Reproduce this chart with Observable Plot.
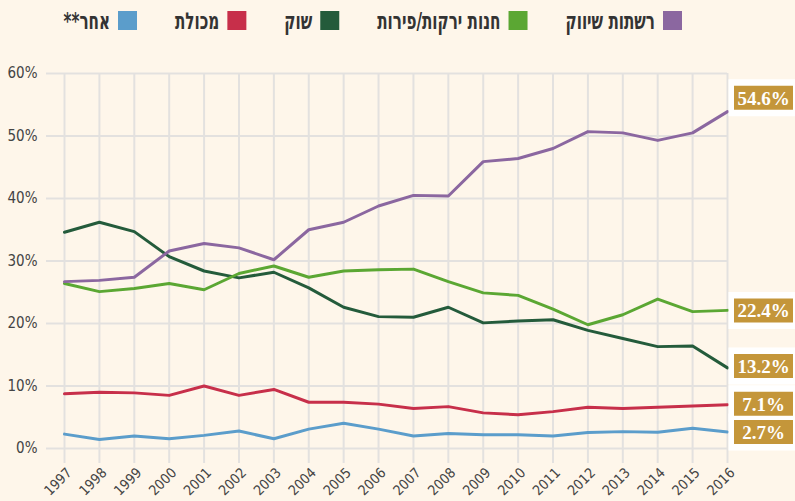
<!DOCTYPE html>
<html lang="he">
<head>
<meta charset="utf-8">
<script src="https://cdn.jsdelivr.net/npm/d3@7"></script>
<script src="https://cdn.jsdelivr.net/npm/@observablehq/plot@0.6"></script>
<style>
  html, body { margin: 0; padding: 0; background: #fef6ea; }
  #wrap { width: 795px; height: 501px; position: relative; overflow: hidden; }
  #legend { display: block; }
  #chart svg { display: block; }
</style>
</head>
<body>
<div id="wrap">
  <svg id="legend" width="795" height="40"></svg>
  <div id="chart"></div>
</div>
<script>
// ---- data ----
const years = [1997,1998,1999,2000,2001,2002,2003,2004,2005,2006,2007,2008,2009,2010,2011,2012,2013,2014,2015,2016];
const seriesNames = ["רשתות שיווק", "חנות ירקות/פירות", "שוק", "מכולת", "אחר**"];
const chains      = [26.7,26.9,27.4,31.6,32.8,32.1,30.2,35.0,36.2,38.8,40.5,40.4,45.9,46.4,48.0,50.7,50.5,49.3,50.5,53.9];
const greengrocer = [26.4,25.1,25.6,26.4,25.4,28.0,29.2,27.4,28.4,28.6,28.7,26.7,24.9,24.5,22.3,19.8,21.4,23.9,21.9,22.1];
const market      = [34.6,36.2,34.7,30.7,28.4,27.3,28.2,25.7,22.6,21.1,21.0,22.6,20.1,20.4,20.6,18.9,17.6,16.3,16.4,12.9];
const grocery     = [8.75,9.0,8.9,8.5,10.0,8.5,9.45,7.4,7.4,7.1,6.4,6.7,5.7,5.4,5.9,6.6,6.4,6.6,6.8,7.0];
const other       = [2.3,1.45,2.0,1.55,2.1,2.8,1.55,3.1,4.05,3.1,2.0,2.4,2.2,2.2,2.0,2.55,2.7,2.6,3.25,2.65];
const endLabels   = ["54.6%", "22.4%", "13.2%", "7.1%", "2.7%"];
const yTicks      = [0,10,20,30,40,50,60];

// ---- styles ----
const colors   = ["#8b67a0", "#5ba733", "#245b3b", "#c72f4a", "#5b9dcb"];
const labelDy  = [-14, 0, -2, -1, 0];
const values   = [chains, greengrocer, market, grocery, other];

const rows = [];
values.forEach((arr, si) => arr.forEach((v, i) => rows.push({series: seriesNames[si], year: years[i], value: v})));
const ends = values.map((arr, si) => ({series: seriesNames[si], year: years[years.length - 1], value: arr[arr.length - 1], label: endLabels[si], si}));

const rectSymbol = (w, h) => ({draw(ctx) { ctx.rect(-w / 2, -h / 2, w, h); }});

const tickFont = "'DejaVu Sans Condensed', 'DejaVu Sans', sans-serif";

const drawOrder = [4, 3, 2, 1, 0];
const lineMarks = drawOrder.map(si =>
  Plot.line(rows.filter(d => d.series === seriesNames[si]), {x: "year", y: "value", stroke: colors[si], strokeWidth: 3})
);

const labelMarks = [];
ends.forEach(e => {
  labelMarks.push(Plot.dot([e], {x: "year", y: "value", dx: 34.5, dy: labelDy[e.si], symbol: rectSymbol(67, 37), fill: "#ffffff", r: 5}));
});
ends.forEach(e => {
  labelMarks.push(Plot.dot([e], {x: "year", y: "value", dx: 36, dy: labelDy[e.si], symbol: rectSymbol(59, 24), fill: "#c4963a", r: 5}));
  labelMarks.push(Plot.text([e], {x: "year", y: "value", text: "label", dx: 36, dy: labelDy[e.si] + 1, fill: "#ffffff",
    fontSize: 19, fontWeight: "bold", fontFamily: "'Liberation Serif', 'DejaVu Serif', serif", textAnchor: "middle"}));
});

const chart = Plot.plot({
  width: 795,
  height: 461,
  marginTop: 33,
  marginBottom: 53,
  marginLeft: 64,
  marginRight: 68,
  style: {background: "transparent", fontFamily: tickFont, fontSize: "15px", color: "#444"},
  x: {domain: [1997, 2016], type: "linear"},
  y: {domain: [0, 60]},
  marks: [
    Plot.ruleY(yTicks, {stroke: "#e3e1df", strokeWidth: 2, insetLeft: -18}),
    Plot.ruleX(years, {stroke: "#e3e1df", strokeWidth: 2, insetBottom: -15}),
    Plot.axisY({ticks: yTicks, tickFormat: d => d + "%", tickSize: 0, tickPadding: 27, fontSize: 15, label: null, fill: "#444"}),
    Plot.axisX({ticks: years, tickFormat: d => String(d), tickSize: 0, tickPadding: 22, tickRotate: -45, fontSize: 14, label: null, fill: "#444", dx: 5}),
    ...lineMarks,
    ...labelMarks
  ]
});
document.getElementById("chart").appendChild(chart);

// ---- legend ----
const leg = d3.select("#legend");
let rightX = 682;
const k = 0.66;
seriesNames.forEach((name, si) => {
  leg.append("rect").attr("x", rightX - 19).attr("y", 11).attr("width", 19).attr("height", 19).attr("fill", colors[si]);
  const t = leg.append("text")
    .attr("x", rightX - 19 - 8).attr("y", 29)
    .attr("text-anchor", "start")
    .attr("direction", "rtl")
    .style("direction", "rtl")
    .style("unicode-bidi", "embed")
    .attr("fill", "#333")
    .style("font-family", "'DejaVu Sans', sans-serif")
    .style("font-weight", "bold")
    .style("font-size", "23px")
    .text(name);
  const w = t.node().getComputedTextLength() * k;
  t.attr("textLength", w).attr("lengthAdjust", "spacingAndGlyphs");
  rightX = rightX - 19 - 8 - w - 38;
});
</script>
</body>
</html>
